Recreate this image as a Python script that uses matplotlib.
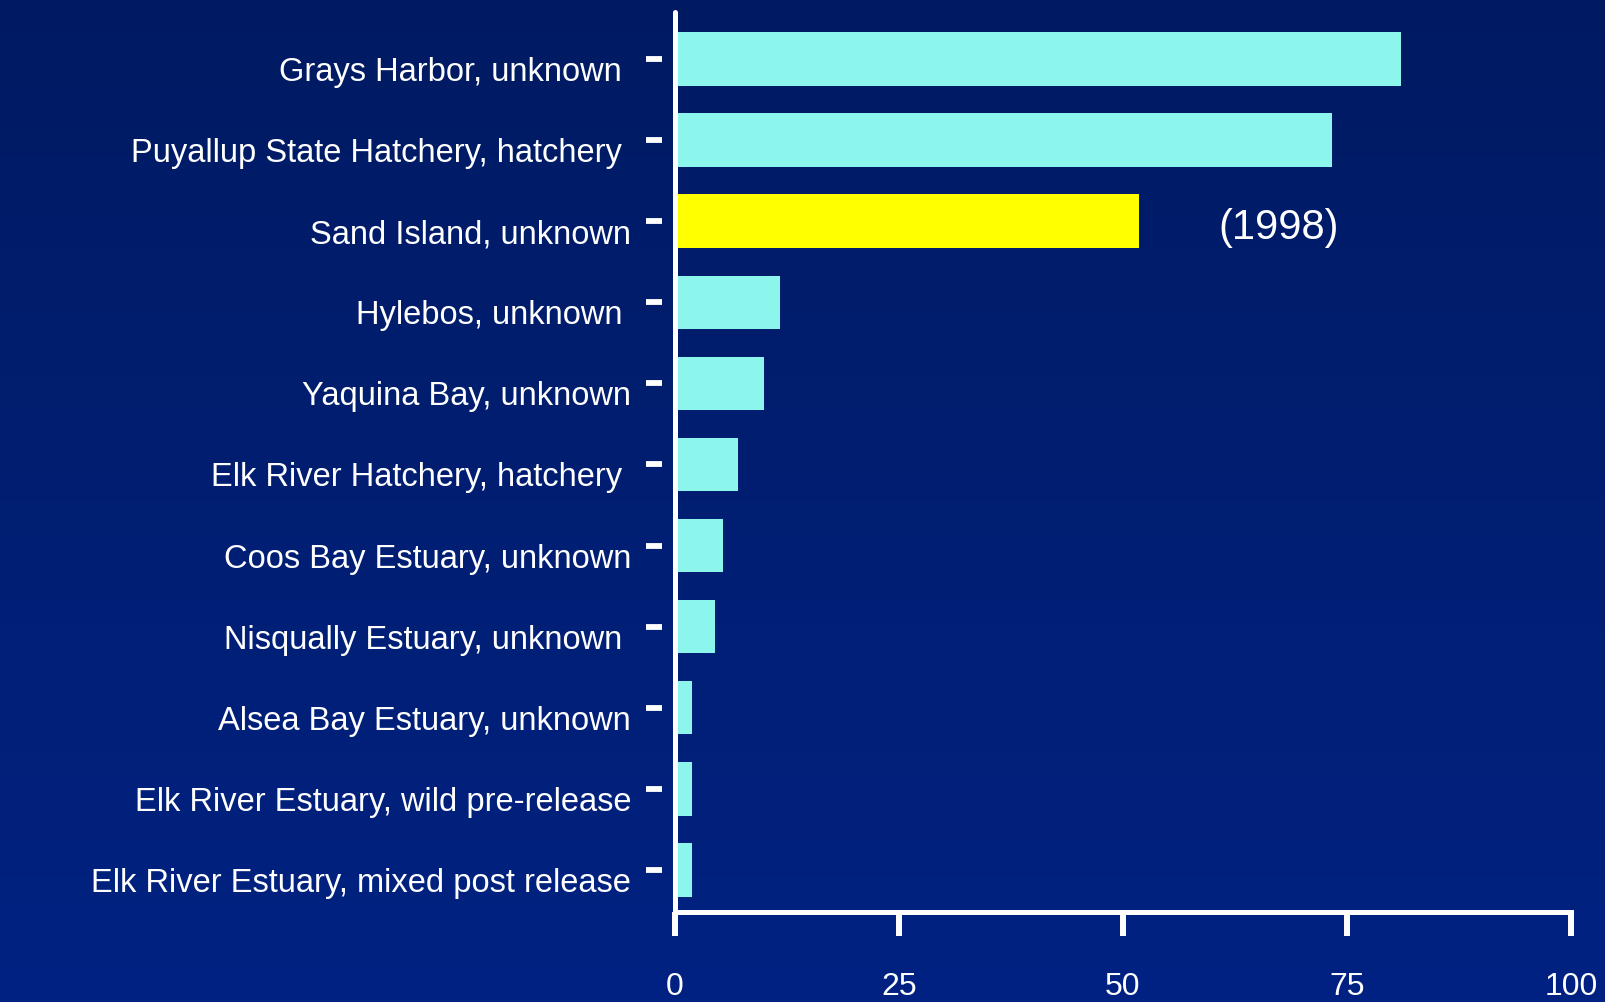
import numpy as np
import matplotlib
matplotlib.use("Agg")
import matplotlib.pyplot as plt
import matplotlib.transforms as mtransforms
from matplotlib.colors import LinearSegmentedColormap

# data, listed bottom to top
sites = ["Elk River Estuary, mixed post release",
         "Elk River Estuary, wild pre-release",
         "Alsea Bay Estuary, unknown",
         "Nisqually Estuary, unknown ",
         "Coos Bay Estuary, unknown",
         "Elk River Hatchery, hatchery ",
         "Yaquina Bay, unknown",
         "Hylebos, unknown ",
         "Sand Island, unknown",
         "Puyallup State Hatchery, hatchery ",
         "Grays Harbor, unknown "]
values = [1.9, 1.9, 1.9, 4.5, 5.4, 7.0, 9.9, 11.7, 51.8, 73.3, 81.0]
highlight = "Sand Island, unknown"
note = "(1998)"
xticks = [0, 25, 50, 75, 100]

plt.rcParams['font.family'] = ['Liberation Sans', 'DejaVu Sans']

fig = plt.figure(figsize=(16.06, 10.02), dpi=100)

# background gradient
bg = fig.add_axes([0, 0, 1, 1], zorder=-1)
cmap = LinearSegmentedColormap.from_list("bg", ["#001a62", "#002282"])
bg.imshow(np.linspace(0, 1, 256).reshape(-1, 1), aspect='auto', cmap=cmap)
bg.axis('off')

ax = fig.add_axes([675/1606, 90/1002, 896/1606, 900/1002])
ax.set_facecolor('none')

cyan = "#8cf5ec"
colors = ["#ffff00" if s == highlight else cyan for s in sites]
ypos = np.arange(len(sites))
ax.barh(ypos, values, height=0.66, color=colors, zorder=2)

ax.set_xlim(0, 100)
ax.set_ylim(-0.52, 10.58)

ax.text(67.4, sites.index(highlight) - 0.08, note, color='white',
        fontsize=30, ha='center', va='center')

for s in ['top', 'right']:
    ax.spines[s].set_visible(False)
ax.spines['bottom'].set_color('white')
ax.spines['bottom'].set_linewidth(3.6)
ax.spines['bottom'].set_capstyle('projecting')
# y ticks sit a little left of the axis line
ax.spines['left'].set_position(('outward', 9))
ax.spines['left'].set_visible(False)
ax.axvline(0, color='white', lw=3.6, zorder=3, clip_on=False,
           solid_capstyle='round')

ax.set_yticks(ypos)
ax.set_yticklabels(sites)
ax.set_xticks(xticks)
ax.set_xticklabels([str(t) for t in xticks])

ax.tick_params(axis='y', colors='white', length=11.5, width=4.2,
               pad=11, labelsize=23.5)
ax.tick_params(axis='x', colors='white', length=17, width=4.3,
               pad=26, labelsize=23)

shift = mtransforms.ScaledTranslation(0, -10/100, fig.dpi_scale_trans)
for lab in ax.get_yticklabels():
    lab.set_transform(lab.get_transform() + shift)

fig.savefig("out.png", dpi=100)
